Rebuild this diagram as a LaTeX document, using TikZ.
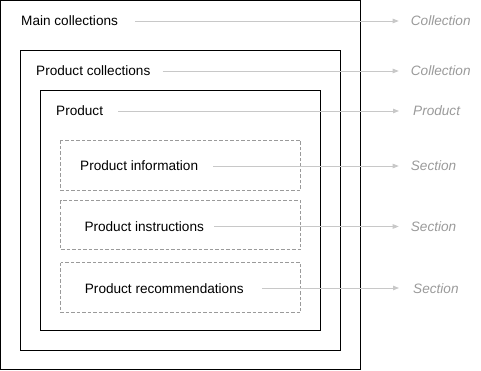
\documentclass[tikz,border=0pt]{standalone}
\usepackage{fontspec}
\setmainfont{Liberation Sans}
\usetikzlibrary{arrows.meta}
\definecolor{linkgray}{HTML}{C8C8C8}
\definecolor{labelgray}{HTML}{9A9A9A}
\definecolor{dashgray}{HTML}{9A9A9A}
\begin{document}
\begin{tikzpicture}[x=1pt,y=-1pt,
  frame/.style={draw=black,line width=1pt},
  section/.style={draw=dashgray,line width=0.8pt,dash pattern=on 3.5pt off 2pt},
  item/.style={anchor=base west,inner sep=0pt,font=\fontsize{13.6}{16}\selectfont},
  kind/.style={anchor=base west,inner sep=0pt,text=labelgray,font=\fontsize{13.6}{16}\selectfont\itshape},
  link/.style={draw=linkgray,line width=0.8pt,-{Triangle[length=6pt,width=4.5pt,fill=linkgray]}}]
\useasboundingbox (0,0) rectangle (481,371);

% nested containers
\draw[frame] (0.5,0.5) rectangle (360.5,369.5);
\draw[frame] (20.5,50.5) rectangle (340.5,350);
\draw[frame] (40.5,90.5) rectangle (320.5,330);
\draw[section] (60.5,140.5) rectangle (300.5,190.5);
\draw[section] (60.5,200.5) rectangle (300.5,249.5);
\draw[section] (60.5,262.5) rectangle (300.5,312.5);

% labels inside the containers
\node[item] (main) at (21,26) {Main collections};
\node[item] (pcol) at (36,76) {Product collections};
\node[item] (prod) at (56,116) {Product};
\node[item] (info) at (80,171) {Product information};
\node[item] (instr) at (84.3,231.5) {Product instructions};
\node[item] (recs) at (84.7,293) {Product recommendations};

% type names on the right
\node[kind] (tmain) at (410.7,26) {Collection};
\node[kind] (tpcol) at (410.7,76) {Collection};
\node[kind] (tprod) at (413,116) {Product};
\node[kind] (tinfo) at (410.7,171) {Section};
\node[kind] (tinstr) at (410.7,231.5) {Section};
\node[kind] (trecs) at (413,293) {Section};

% connectors, drawn at mid-height of the lower-case letters
\draw[link] ([xshift=17pt,yshift=5pt]main.base east) -- ([xshift=-12pt,yshift=5pt]tmain.base west);
\draw[link] ([xshift=12pt,yshift=5pt]pcol.base east) -- ([xshift=-12pt,yshift=5pt]tpcol.base west);
\draw[link] ([xshift=15pt,yshift=5pt]prod.base east) -- ([xshift=-14pt,yshift=5pt]tprod.base west);
\draw[link] ([xshift=15pt,yshift=5pt]info.base east) -- ([xshift=-12pt,yshift=5pt]tinfo.base west);
\draw[link] ([xshift=10pt,yshift=5pt]instr.base east) -- ([xshift=-12pt,yshift=5pt]tinstr.base west);
\draw[link] ([xshift=18pt,yshift=5pt]recs.base east) -- ([xshift=-14pt,yshift=5pt]trecs.base west);
\end{tikzpicture}
\end{document}
